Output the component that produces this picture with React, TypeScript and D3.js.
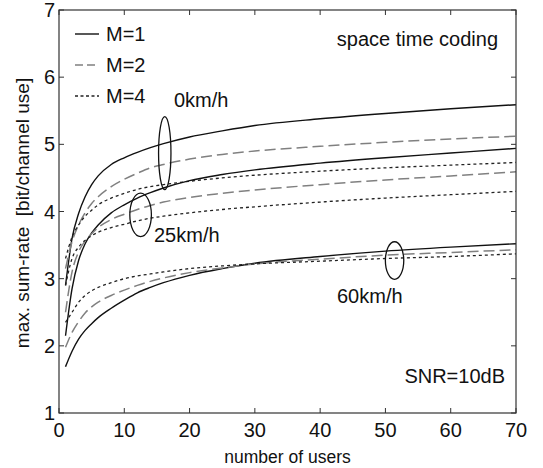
import React from "react";
import * as d3 from "d3";

const users = [1, 2, 3, 4, 5, 6, 8, 10, 12, 14, 16, 20, 25, 30, 40, 50, 60, 70];

const v0M1 = [2.9, 3.6, 3.97, 4.22, 4.4, 4.53, 4.7, 4.8, 4.88, 4.95, 5.01, 5.11, 5.2, 5.28, 5.38, 5.46, 5.53, 5.59];
const v0M2 = [3.15, 3.55, 3.8, 3.98, 4.12, 4.22, 4.37, 4.48, 4.57, 4.65, 4.7, 4.78, 4.85, 4.9, 4.97, 5.03, 5.08, 5.12];
const v0M4 = [3.3, 3.62, 3.8, 3.93, 4.02, 4.1, 4.2, 4.27, 4.33, 4.37, 4.4, 4.45, 4.5, 4.54, 4.6, 4.65, 4.69, 4.73];
const v25M1 = [2.15, 2.85, 3.27, 3.52, 3.68, 3.8, 3.98, 4.1, 4.2, 4.28, 4.35, 4.46, 4.55, 4.62, 4.72, 4.8, 4.87, 4.94];
const v25M2 = [2.5, 3.1, 3.4, 3.56, 3.67, 3.76, 3.88, 3.96, 4.03, 4.09, 4.14, 4.21, 4.27, 4.32, 4.4, 4.47, 4.53, 4.59];
const v25M4 = [2.9, 3.3, 3.47, 3.57, 3.64, 3.69, 3.76, 3.81, 3.86, 3.9, 3.93, 3.98, 4.03, 4.07, 4.14, 4.2, 4.25, 4.3];
const v60M1 = [1.69, 1.92, 2.1, 2.23, 2.33, 2.42, 2.56, 2.68, 2.79, 2.87, 2.94, 3.05, 3.15, 3.23, 3.33, 3.41, 3.47, 3.52];
const v60M2 = [1.98, 2.2, 2.36, 2.49, 2.58, 2.65, 2.75, 2.83, 2.9, 2.96, 3.01, 3.09, 3.16, 3.22, 3.29, 3.35, 3.39, 3.43];
const v60M4 = [2.35, 2.5, 2.65, 2.75, 2.82, 2.87, 2.94, 3.0, 3.04, 3.07, 3.1, 3.15, 3.19, 3.22, 3.26, 3.3, 3.33, 3.37];

const xTicks = [0, 10, 20, 30, 40, 50, 60, 70];
const yTicks = [1, 2, 3, 4, 5, 6, 7];
const legendLabels = ["M=1", "M=2", "M=4"];

const FONT = "'Liberation Sans', Arial, Helvetica, sans-serif";

const styles: Record<string, { stroke: string; dash: string; legendDash: string; width: number }> = {
  M1: { stroke: "#111", dash: "none", legendDash: "none", width: 1.4 },
  M2: { stroke: "#808080", dash: "11,5", legendDash: "8,4", width: 1.5 },
  M4: { stroke: "#222", dash: "3,3", legendDash: "3,2.5", width: 1.3 },
};

const series = [
  { vals: v0M1, s: "M1" },
  { vals: v0M2, s: "M2" },
  { vals: v0M4, s: "M4" },
  { vals: v25M1, s: "M1" },
  { vals: v25M2, s: "M2" },
  { vals: v25M4, s: "M4" },
  { vals: v60M1, s: "M1" },
  { vals: v60M2, s: "M2" },
  { vals: v60M4, s: "M4" },
];

export default function App() {
  const W = 543, H = 468;
  const L = 59, R = 516, T = 10, B = 413;
  const x = d3.scaleLinear().domain([0, 70]).range([L, R]);
  const y = d3.scaleLinear().domain([1, 7]).range([B, T]);
  const line = d3
    .line<number>()
    .x((_, i) => x(users[i]))
    .y((d) => y(d))
    .curve(d3.curveMonotoneX);

  const axisColor = "#333";
  const fs = 20;

  return (
    <svg width={W} height={H} style={{ position: "absolute", left: 0, top: 0, background: "#fff" }}>
      <rect x={0} y={0} width={W} height={H} fill="#fff" />
      {series.map((se, i) => {
        const st = styles[se.s];
        return (
          <path
            key={i}
            d={line(se.vals) || ""}
            fill="none"
            stroke={st.stroke}
            strokeWidth={st.width}
            strokeDasharray={st.dash}
          />
        );
      })}
      <rect x={L} y={T} width={R - L} height={B - T} fill="none" stroke={axisColor} strokeWidth={1.2} />
      {xTicks.map((t) => (
        <g key={"x" + t}>
          <line x1={x(t)} x2={x(t)} y1={B} y2={B - 5} stroke={axisColor} strokeWidth={1} />
          <line x1={x(t)} x2={x(t)} y1={T} y2={T + 5} stroke={axisColor} strokeWidth={1} />
          <text x={x(t)} y={437} textAnchor="middle" fontFamily={FONT} fontSize={fs} fill="#111">
            {t}
          </text>
        </g>
      ))}
      {yTicks.map((t) => (
        <g key={"y" + t}>
          <line x1={L} x2={L + 5} y1={y(t)} y2={y(t)} stroke={axisColor} strokeWidth={1} />
          <line x1={R} x2={R - 5} y1={y(t)} y2={y(t)} stroke={axisColor} strokeWidth={1} />
          <text x={55} y={y(t) + 7} textAnchor="end" fontFamily={FONT} fontSize={fs} fill="#111">
            {t}
          </text>
        </g>
      ))}
      <text x={(L + R) / 2} y={463} textAnchor="middle" fontFamily={FONT} fontSize={17.5} fill="#111">
        number of users
      </text>
      <text
        transform={`translate(29,213) rotate(-90)`}
        textAnchor="middle"
        fontFamily={FONT}
        fontSize={19}
        fill="#111"
        style={{ whiteSpace: "pre" }}
      >
        {"max. sum-rate  [bit/channel use]"}
      </text>
      {legendLabels.map((lab, i) => {
        const st = styles[["M1", "M2", "M4"][i]];
        const ly = 34 + i * 31;
        return (
          <g key={lab}>
            <line x1={75} x2={99} y1={ly} y2={ly} stroke={st.stroke} strokeWidth={st.width} strokeDasharray={st.legendDash} />
            <text x={106} y={ly + 7} fontFamily={FONT} fontSize={fs} fill="#111">
              {lab}
            </text>
          </g>
        );
      })}
      <text x={498} y={46} textAnchor="end" fontFamily={FONT} fontSize={fs} fill="#111">
        space time coding
      </text>
      <text x={505} y={383} textAnchor="end" fontFamily={FONT} fontSize={fs} fill="#111">
        SNR=10dB
      </text>
      <ellipse cx={x(16.2)} cy={y(4.87)} rx={6.2} ry={36.5} fill="none" stroke="#111" strokeWidth={1.3} />
      <text x={174} y={107} fontFamily={FONT} fontSize={fs} fill="#111">0km/h</text>
      <ellipse cx={x(12.5)} cy={y(3.95)} rx={10.8} ry={21.7} fill="none" stroke="#111" strokeWidth={1.3} />
      <text x={154} y={242} fontFamily={FONT} fontSize={fs} fill="#111">25km/h</text>
      <ellipse cx={x(51.4)} cy={y(3.27)} rx={9.2} ry={18.8} fill="none" stroke="#111" strokeWidth={1.3} />
      <text x={337} y={303} fontFamily={FONT} fontSize={fs} fill="#111">60km/h</text>
    </svg>
  );
}
